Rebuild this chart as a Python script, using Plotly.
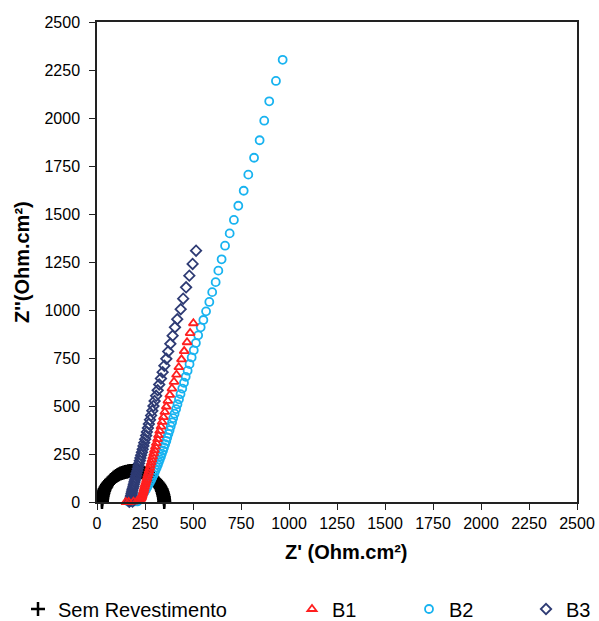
import plotly.graph_objects as go

# ---- data (Z' , Z'') ----
sem_x = [350, 350, 349, 348, 346, 344, 342, 339, 336, 332, 328, 324, 319, 314, 308, 303,
         296, 290, 283, 276, 269, 262, 254, 246, 238, 230, 222, 213, 205, 196, 188, 180,
         171, 163, 154, 146, 138, 130, 122, 114, 107, 100, 93, 86, 80, 73, 68, 62, 57, 52,
         48, 44, 40, 37, 34, 32, 30, 28, 27, 26, 26]
sem_y = [0, 8, 17, 25, 34, 42, 50, 58, 66, 74, 81, 88, 95, 102, 108, 115,
         120, 126, 131, 136, 140, 144, 148, 151, 154, 156, 158, 160, 161, 162, 162, 162,
         161, 160, 158, 156, 154, 151, 148, 144, 140, 136, 131, 126, 120, 115, 108, 102, 95, 88,
         81, 74, 66, 58, 50, 42, 34, 25, 17, 8, 0]

b1_x = [502, 485, 469, 454, 440, 426, 414, 401, 390, 379, 369, 361, 353, 346, 339, 333,
        326, 320, 315, 309, 304, 299, 295, 290, 286, 282, 278, 275, 271, 268, 264, 261,
        258, 254, 251, 248, 245, 243, 240, 237, 235, 233, 229, 222, 210, 190, 165, 150]
b1_y = [931, 880, 832, 786, 743, 702, 663, 626, 591, 558, 527, 497, 469, 442, 417, 393,
        370, 348, 327, 307, 288, 270, 253, 237, 221, 206, 192, 178, 165, 152, 139, 127,
        115, 103, 92, 81, 70, 60, 50, 41, 32, 24, 17, 11, 6, 2, 0, 0]

b2_x = [967, 932, 897, 871, 847, 818, 788, 764, 736, 713, 691, 667, 649, 632, 618, 600,
        585, 568, 554, 540, 527, 515, 504, 493, 482, 472, 462, 453, 444, 435, 427, 419,
        412, 404, 397, 391, 384, 378, 372, 366, 361, 355, 349, 344, 338, 333, 327, 322,
        317, 311, 305, 300, 294, 288, 282, 275, 268, 261, 254, 246, 238, 231, 224, 217,
        210, 195, 180, 165]
b2_y = [2303, 2193, 2087, 1986, 1884, 1793, 1705, 1621, 1543, 1469, 1399, 1335, 1264, 1205,
        1145, 1093, 1042, 993, 948, 910, 868, 828, 790, 753, 718, 684, 652, 621, 591, 562,
        535, 509, 484, 460, 437, 415, 394, 374, 355, 336, 318, 301, 284, 268, 252, 237,
        222, 208, 194, 180, 167, 154, 141, 128, 115, 102, 89, 76, 63, 50, 38, 27, 17, 9,
        3, 3, 2, 1]

b3_x = [516, 498, 481, 464, 449, 436, 418, 406, 394, 382, 371, 361, 351, 342, 333, 324,
        316, 308, 300, 294, 288, 282, 276, 270, 265, 260, 256, 251, 246, 242, 238, 234,
        230, 226, 223, 219, 216, 213, 210, 206, 204, 200, 198, 195, 192, 190, 187, 184,
        182, 180, 178, 176, 174, 172, 170, 168, 185]
b3_y = [1309, 1240, 1179, 1118, 1059, 1004, 952, 910, 866, 824, 784, 746, 710, 676, 643,
        612, 582, 553, 526, 500, 475, 451, 428, 406, 385, 365, 346, 327, 309, 292, 275,
        259, 244, 229, 215, 201, 188, 175, 162, 150, 138, 126, 115, 104, 93, 82, 72, 62,
        52, 43, 34, 26, 18, 11, 5, 1, 2]

axis_ticks = [0, 250, 500, 750, 1000, 1250, 1500, 1750, 2000, 2250, 2500]
x_title = "Z' (Ohm.cm²)"
y_title = "Z''(Ohm.cm²)"

FONT = "Liberation Sans, Arial, sans-serif"
RED = "#FF1F1F"
LBLUE = "#18B3F0"
NAVY = "#2E3B74"

fig = go.Figure()
fig.add_trace(go.Scatter(
    x=sem_x, y=sem_y, mode="markers", name="Sem Revestimento", legend="legend",
    cliponaxis=False,
    marker=dict(symbol="cross-thin", size=10, color="black",
                line=dict(color="black", width=2.5))))
fig.add_trace(go.Scatter(
    x=b2_x, y=b2_y, mode="markers", name="B2", legend="legend3", cliponaxis=False,
    marker=dict(symbol="circle-open", size=8, color=LBLUE, line=dict(width=1.8))))
fig.add_trace(go.Scatter(
    x=b3_x, y=b3_y, mode="markers", name="B3", legend="legend4", cliponaxis=False,
    marker=dict(symbol="diamond-open", size=8, color=NAVY, line=dict(width=1.8))))
fig.add_trace(go.Scatter(
    x=b1_x, y=b1_y, mode="markers", name="B1", legend="legend2", cliponaxis=False,
    marker=dict(symbol="triangle-up-open", size=8, color=RED, line=dict(width=1.8))))

axis_common = dict(
    range=[0, 2500], tickvals=axis_ticks, ticktext=[str(t) for t in axis_ticks],
    showgrid=False, zeroline=False, showline=True, linecolor="#222", linewidth=1.5,
    mirror=True, ticks="outside", ticklen=6, tickwidth=1.3, tickcolor="#222",
    tickfont=dict(family=FONT, size=16, color="black"), automargin=False,
)
fig.update_xaxes(**axis_common)
fig.update_yaxes(**axis_common, ticklabelstandoff=6)

title_font = dict(family=FONT, size=20, color="black", weight="bold")
fig.add_annotation(text=x_title, xref="paper", yref="paper",
                   x=(346 - 97) / 480, y=(502 - 552) / 480,
                   xanchor="center", yanchor="middle", showarrow=False, font=title_font)
fig.add_annotation(text=y_title, xref="paper", yref="paper",
                   x=(22 - 97) / 480, y=(502 - 262) / 480, textangle=-90,
                   xanchor="center", yanchor="middle", showarrow=False, font=title_font)

leg_font = dict(family=FONT, size=20, color="black")
def leg(xpx):
    return dict(x=xpx / 599, xref="container", xanchor="left",
                y=(502 - 609) / 480, yref="paper", yanchor="middle",
                orientation="h", font=leg_font, bgcolor="rgba(0,0,0,0)",
                borderwidth=0, itemwidth=30)

fig.update_layout(
    width=599, height=621,
    margin=dict(l=97, r=22, t=22, b=119, autoexpand=False),
    paper_bgcolor="white", plot_bgcolor="white",
    showlegend=True,
    legend=leg(18), legend2=leg(292), legend3=leg(409), legend4=leg(526),
)

fig.write_html("out.html", config={"displayModeBar": False},
               post_script="document.body.style.margin='0';document.body.style.padding='0';")
